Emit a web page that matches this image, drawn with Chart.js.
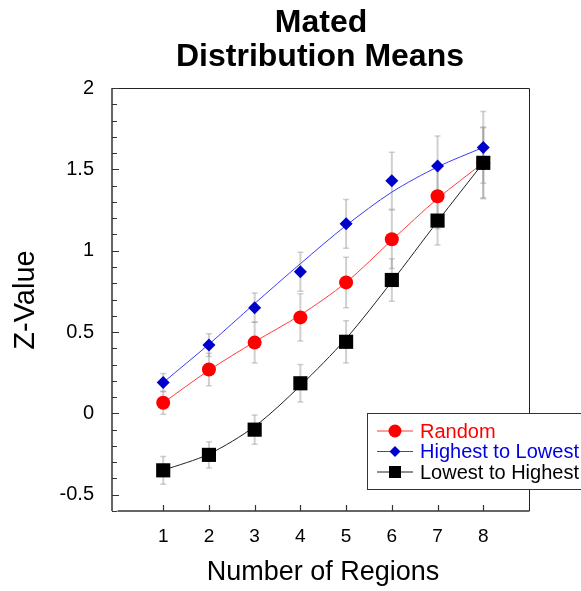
<!DOCTYPE html>
<html>
<head>
<meta charset="utf-8">
<script src="https://cdn.jsdelivr.net/npm/chart.js@4/dist/chart.umd.min.js"></script>
<style>
  html, body { margin: 0; padding: 0; background: #fff; }
  #wrap { width: 581px; height: 591px; position: relative; }
</style>
</head>
<body>
<div id="wrap"><canvas id="c"></canvas></div>
<script>
'use strict';
// Mated distribution means — Z-value per number of regions, 3 orderings with error bars + fitted curves

const xVals = [1, 2, 3, 4, 5, 6, 7, 8];
const yTicks = [-0.5, 0, 0.5, 1, 1.5, 2];

const randomMean = [0.065, 0.27, 0.435, 0.59, 0.805, 1.07, 1.335, 1.54];
const randomErr  = [0.07, 0.10, 0.125, 0.145, 0.155, 0.18, 0.20, 0.22];
const randomFit  = [0.065, 0.265, 0.44, 0.605, 0.805, 1.065, 1.32, 1.54];

const highMean = [0.19, 0.42, 0.65, 0.87, 1.165, 1.43, 1.52, 1.635];
const highErr  = [0.055, 0.07, 0.09, 0.12, 0.15, 0.175, 0.185, 0.22];
const highFit  = [0.19, 0.425, 0.675, 0.92, 1.155, 1.36, 1.515, 1.635];

const lowMean = [-0.35, -0.255, -0.10, 0.185, 0.44, 0.82, 1.185, 1.54];
const lowErr  = [0.085, 0.08, 0.09, 0.115, 0.13, 0.13, 0.15, 0.215];
const lowFit  = [-0.35, -0.25, -0.08, 0.17, 0.46, 0.81, 1.18, 1.54];

const FONT = "'Liberation Sans', Arial, Helvetica, sans-serif";
const pts = arr => xVals.map((x, i) => ({ x, y: arr[i] }));

const SERIES = [
  { label: 'Random', mean: randomMean, err: randomErr, fit: randomFit, color: '#ff0000', line: '#ff3b3b', text: '#ff0000', style: 'circle', r: 7 },
  { label: 'Highest to Lowest', mean: highMean, err: highErr, fit: highFit, color: '#0000cc', line: '#3a3aff', text: '#0000e0', style: 'rectRot', r: 6.5 },
  { label: 'Lowest to Highest', mean: lowMean, err: lowErr, fit: lowFit, color: '#000000', line: '#222222', text: '#000000', style: 'rect', r: 10 },
];

const datasets = [];
SERIES.forEach((s, i) => {
  datasets.push({ label: s.label + ' fit', data: pts(s.fit), borderColor: s.line, borderWidth: 1, pointRadius: 0, tension: 0.3, fill: false, order: 10 + i });
});
SERIES.forEach((s, i) => {
  datasets.push({ label: s.label, data: pts(s.mean), showLine: false, pointStyle: s.style, pointRadius: s.r, pointBackgroundColor: s.color, pointBorderColor: s.color, pointBorderWidth: 0, order: 3 - i });
});

// error bars behind the markers
const errBars = {
  id: 'errBars',
  beforeDatasetsDraw(chart) {
    const { ctx, scales: { x, y } } = chart;
    ctx.save();
    ctx.strokeStyle = 'rgba(150,150,150,0.45)';
    SERIES.forEach(s => {
      xVals.forEach((xv, i) => {
        const px = x.getPixelForValue(xv);
        const top = y.getPixelForValue(s.mean[i] + s.err[i]);
        const bot = y.getPixelForValue(s.mean[i] - s.err[i]);
        ctx.lineWidth = 2;
        ctx.beginPath(); ctx.moveTo(px, top); ctx.lineTo(px, bot); ctx.stroke();
        ctx.lineWidth = 1.5;
        ctx.beginPath();
        ctx.moveTo(px - 3, top); ctx.lineTo(px + 3, top);
        ctx.moveTo(px - 3, bot); ctx.lineTo(px + 3, bot);
        ctx.stroke();
      });
    });
    ctx.restore();
  }
};

// frame, inward ticks, legend box and titles
const deco = {
  id: 'deco',
  afterDatasetsDraw(chart) {
    const { ctx, chartArea: a, scales: { x, y } } = chart;
    ctx.save();
    // top + right border
    ctx.strokeStyle = '#222'; ctx.lineWidth = 1;
    ctx.beginPath();
    ctx.moveTo(a.left, a.top + 0.5); ctx.lineTo(a.right + 0.5, a.top + 0.5); ctx.lineTo(a.right + 0.5, a.bottom);
    ctx.stroke();
    // left + bottom axes (bottom one starts at x = 0, leaving a gap)
    ctx.strokeStyle = '#333'; ctx.lineWidth = 1.5;
    ctx.beginPath();
    ctx.moveTo(a.left, a.top); ctx.lineTo(a.left, a.bottom);
    ctx.moveTo(x.getPixelForValue(0), a.bottom); ctx.lineTo(a.right + 0.5, a.bottom);
    ctx.stroke();
    ctx.lineWidth = 1.2;
    ctx.beginPath();
    for (let k = -6; k <= 20; k++) {
      const v = k / 10, py = Math.round(y.getPixelForValue(v)) + 0.5;
      const major = k % 5 === 0;
      ctx.moveTo(a.left, py); ctx.lineTo(a.left + (major ? 7 : 5), py);
    }
    xVals.forEach(v => {
      const px = Math.round(x.getPixelForValue(v)) + 0.5;
      ctx.moveTo(px, a.bottom); ctx.lineTo(px, a.bottom - 6);
    });
    ctx.stroke();

    // legend
    const lx = 367.5, ly = 413.5;
    ctx.fillStyle = '#fff';
    ctx.fillRect(lx, ly, 240, 76);
    ctx.strokeStyle = '#333'; ctx.lineWidth = 1;
    ctx.strokeRect(lx, ly, 240, 76);
    ctx.font = '20px ' + FONT;
    ctx.textBaseline = 'middle';
    ctx.textAlign = 'left';
    SERIES.forEach((s, i) => {
      const cy = 431 + i * 20.5;
      ctx.strokeStyle = s.line; ctx.lineWidth = 1;
      ctx.beginPath(); ctx.moveTo(377, cy); ctx.lineTo(413, cy); ctx.stroke();
      ctx.fillStyle = s.color;
      Chart.helpers.drawPoint(ctx, { pointStyle: s.style, radius: s.style === 'rect' ? 8.5 : (s.style === 'circle' ? 6.5 : 5.5), borderWidth: 0 }, 395, cy);
      ctx.fillStyle = s.text;
      ctx.fillText(s.label, 420, cy + 1);
    });

    // titles
    ctx.fillStyle = '#000';
    ctx.textAlign = 'center';
    ctx.textBaseline = 'alphabetic';
    ctx.font = 'bold 32px ' + FONT;
    ctx.fillText('Mated', 321, 32);
    ctx.fillText('Distribution Means', 320, 66);
    ctx.font = '27px ' + FONT;
    ctx.fillText('Number of Regions', 323, 580);
    ctx.translate(33.5, 300);
    ctx.rotate(-Math.PI / 2);
    ctx.font = '29px ' + FONT;
    ctx.fillText('Z-Value', 0, 0);
    ctx.restore();
  }
};

new Chart(document.getElementById('c'), {
  type: 'line',
  data: { datasets },
  options: {
    responsive: true, maintainAspectRatio: false, animation: false,
    layout: { padding: { top: 88, right: 52, left: 0, bottom: 0 } },
    plugins: { legend: { display: false }, title: { display: false }, tooltip: { enabled: false } },
    scales: {
      x: {
        type: 'linear', min: -0.12, max: 9,
        grid: { display: false }, border: { display: false },
        afterBuildTicks: s => { s.ticks = xVals.map(v => ({ value: v })); },
        afterFit: s => { s.height = 80; },
        ticks: { color: '#000', font: { family: FONT, size: 19 }, padding: 6 },
      },
      y: {
        type: 'linear', min: -0.6, max: 2,
        grid: { display: false }, border: { display: false },
        afterBuildTicks: s => { s.ticks = yTicks.map(v => ({ value: v })); },
        afterFit: s => { s.width = 112; },
        ticks: { color: '#000', font: { family: FONT, size: 20 }, padding: 10, callback: v => String(v) },
      },
    },
  },
  plugins: [errBars, deco],
});
</script>
</body>
</html>
